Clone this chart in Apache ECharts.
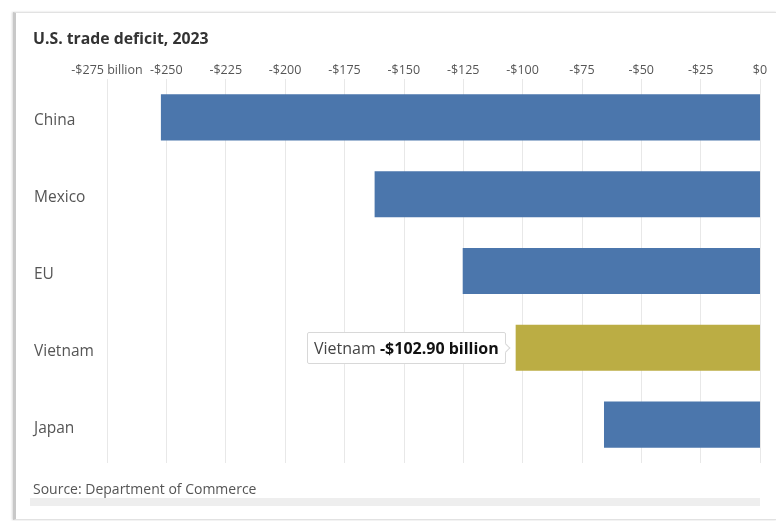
<!DOCTYPE html>
<html>
<head>
<meta charset="utf-8">
<script src="https://cdn.jsdelivr.net/npm/echarts@6/dist/echarts.min.js"></script>
<style>
  html, body { margin: 0; padding: 0; background: #fff; }
  #frame { position: absolute; left: 13px; top: 12px; width: 760px; height: 506px;
           border: 1px solid #e2e2e2; border-left: 3px solid #c8c8c8; box-shadow: -1px 0 2px rgba(0,0,0,0.15); background: #fff; }
  #strip { position: absolute; left: 30px; top: 498px; width: 730px; height: 8px; background: #eeeeee; }
  #chart { position: absolute; left: 0; top: 0; width: 776px; height: 521px; }
</style>
</head>
<body>
<div id="frame"></div>
<div id="strip"></div>
<div id="chart"></div>
<script>
const categories = ['China', 'Mexico', 'EU', 'Vietnam', 'Japan'];
const deficits = [-252.3, -162.3, -125.2, -102.9, -65.7];
const highlighted = 'Vietnam';
const axisMin = -275;
const axisMax = 0;
const axisStep = 25;

const chart = echarts.init(document.getElementById('chart'), null, { renderer: 'canvas' });
const FONT = '"Open Sans", "Noto Sans", sans-serif';

chart.setOption({
  animation: false,
  backgroundColor: 'transparent',
  title: [
    { text: 'U.S. trade deficit, 2023', left: 28, top: 26,
      textStyle: { fontFamily: FONT, fontSize: 15.8, fontWeight: 'bold', color: '#333' } },
    { text: 'Source: Department of Commerce', left: 28, top: 478,
      textStyle: { fontFamily: FONT, fontSize: 14, fontWeight: 'normal', color: '#555' } }
  ],
  grid: { left: 107, right: 16, top: 79, bottom: 58, containLabel: false },
  tooltip: {
    trigger: 'item',
    position: 'left',
    alwaysShowContent: true,
    transitionDuration: 0,
    showDelay: 0,
    backgroundColor: '#fff',
    borderColor: '#d8d8d8',
    borderWidth: 1,
    padding: [3, 6],
    extraCssText: 'box-shadow:none;border-radius:2px;',
    textStyle: { fontFamily: FONT, fontSize: 16, color: '#444' },
    formatter: p => p.name + ' <b style="color:#111">-$' + Math.abs(p.value).toFixed(2) + ' billion</b>'
  },
  xAxis: {
    type: 'value',
    position: 'top',
    min: axisMin, max: axisMax, interval: axisStep,
    axisLine: { show: false },
    axisTick: { show: false },
    splitLine: { show: true, lineStyle: { color: '#e8e8e8', width: 1 } },
    axisLabel: {
      fontFamily: FONT, fontSize: 12.5, color: '#555', margin: 2,
      formatter: v => v === 0 ? '$0' : (v === axisMin ? '-$' + (-v) + ' billion' : '-$' + (-v))
    }
  },
  yAxis: {
    type: 'category',
    data: categories,
    inverse: true,
    axisLine: { show: false },
    axisTick: { show: false },
    splitLine: { show: false },
    axisLabel: {
      align: 'left', margin: 73,
      formatter: v => '{c|' + v + '}',
      rich: { c: { fontFamily: FONT, fontSize: 15.5, color: '#555', padding: [7, 0, 0, 0] } }
    }
  },
  series: [{
    type: 'bar',
    barWidth: '60%',
    data: deficits.map((v, i) => ({
      value: v,
      itemStyle: { color: categories[i] === highlighted ? '#BBAD44' : '#4B76AC' }
    })),
    emphasis: { disabled: true }
  }]
});

chart.dispatchAction({ type: 'showTip', seriesIndex: 0, dataIndex: categories.indexOf(highlighted) });
</script>
</body>
</html>
